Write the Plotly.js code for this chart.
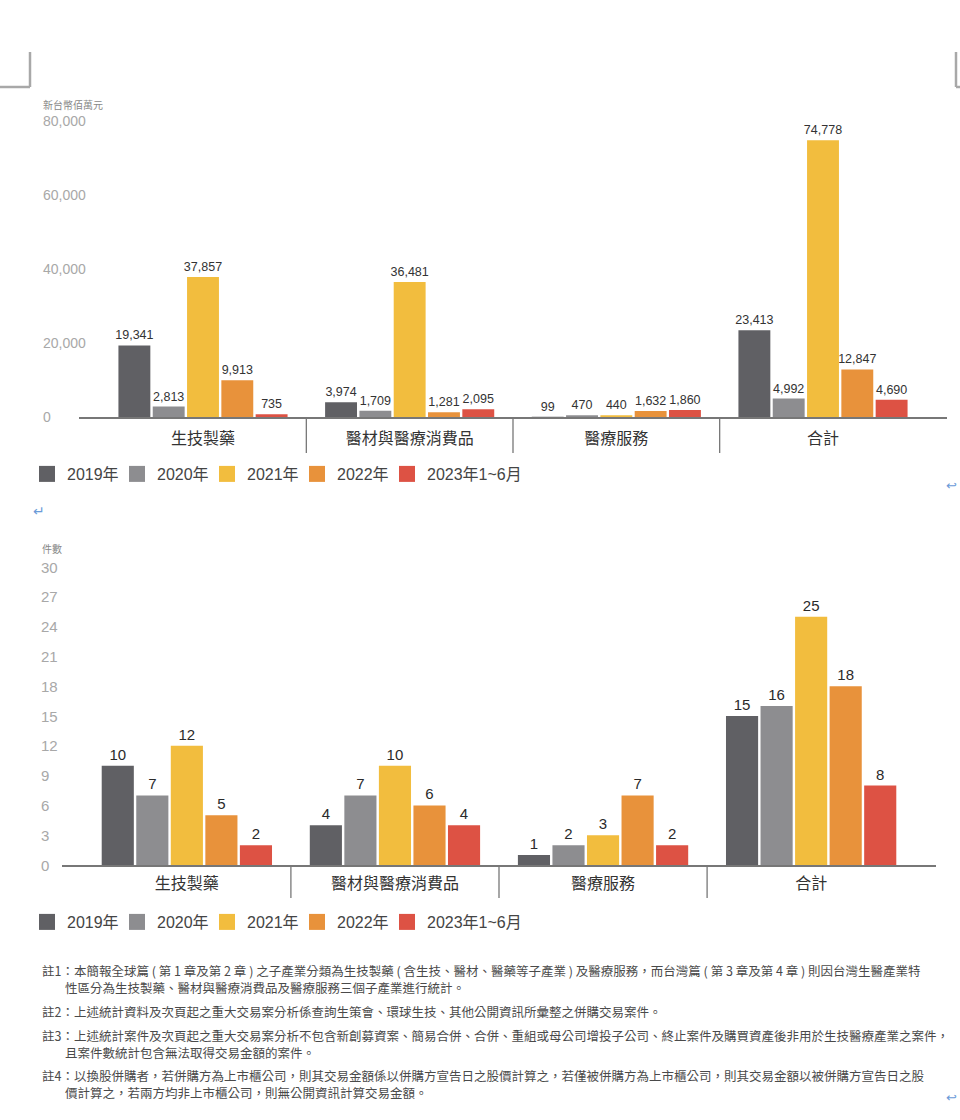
<!DOCTYPE html>
<html>
<head>
<meta charset="utf-8">
<script src="https://cdn.plot.ly/plotly-3.0.1.min.js"></script>
<style>
html,body{margin:0;padding:0;background:#fff;}
#chart{width:960px;height:1120px;}
</style>
</head>
<body>
<div id="chart"></div>
<script>
// ---------- data ----------
const categories = ['生技製藥', '醫材與醫療消費品', '醫療服務', '合計'];
const seriesNames = ['2019年', '2020年', '2021年', '2022年', '2023年1~6月'];
const seriesColors = ['#606064', '#8d8d90', '#f2bd3e', '#e8923b', '#dd5244'];

// 交易金額 (新台幣佰萬元)
const amount2019 = [19341, 3974, 99, 23413];
const amount2020 = [2813, 1709, 470, 4992];
const amount2021 = [37857, 36481, 440, 74778];
const amount2022 = [9913, 1281, 1632, 12847];
const amount2023H1 = [735, 2095, 1860, 4690];

// 件數
const count2019 = [10, 4, 1, 15];
const count2020 = [7, 7, 2, 16];
const count2021 = [12, 10, 3, 25];
const count2022 = [5, 6, 7, 18];
const count2023H1 = [2, 4, 2, 8];

const amountTicks = [0, 20000, 40000, 60000, 80000];
const countTicks = [0, 3, 6, 9, 12, 15, 18, 21, 24, 27, 30];

const unit1 = '新台幣佰萬元';
const unit2 = '件數';

const notes = [
  {t: '註1：本簡報全球篇 ( 第 1 章及第 2 章 ) 之子產業分類為生技製藥 ( 含生技、醫材、醫藥等子產業 ) 及醫療服務，而台灣篇 ( 第 3 章及第 4 章 ) 則因台灣生醫產業特', indent: false},
  {t: '性區分為生技製藥、醫材與醫療消費品及醫療服務三個子產業進行統計。', indent: true},
  {t: '註2：上述統計資料及次頁起之重大交易案分析係查詢生策會、環球生技、其他公開資訊所彙整之併購交易案件。', indent: false},
  {t: '註3：上述統計案件及次頁起之重大交易案分析不包含新創募資案、簡易合併、合併、重組或母公司增投子公司、終止案件及購買資產後非用於生技醫療產業之案件，', indent: false},
  {t: '且案件數統計包含無法取得交易金額的案件。', indent: true},
  {t: '註4：以換股併購者，若併購方為上市櫃公司，則其交易金額係以併購方宣告日之股價計算之，若僅被併購方為上市櫃公司，則其交易金額以被併購方宣告日之股', indent: false},
  {t: '價計算之，若兩方均非上市櫃公司，則無公開資訊計算交易金額。', indent: true}
];
const noteY = [970, 987, 1011, 1035, 1052, 1075, 1092];

// ---------- build ----------
const W = 960, H = 1120;
const px = x => x / W;
const py = y => 1 - y / H;
const FONT = 'Liberation Sans, Arial, Noto Sans CJK TC, sans-serif';
const CJK = 'Noto Sans CJK TC, Liberation Sans, sans-serif';

const amounts = [amount2019, amount2020, amount2021, amount2022, amount2023H1];
const counts = [count2019, count2020, count2021, count2022, count2023H1];

const traces = [];
amounts.forEach((vals, i) => {
  traces.push({
    type: 'bar', x: categories, y: vals, xaxis: 'x', yaxis: 'y',
    name: seriesNames[i], showlegend: false,
    marker: {color: seriesColors[i]},
    text: vals.map(v => v.toLocaleString('en-US')),
    textposition: 'outside', cliponaxis: false, constraintext: 'none',
    textfont: {family: FONT, size: 12.5, color: '#333'},
    hoverinfo: 'none'
  });
});
counts.forEach((vals, i) => {
  traces.push({
    type: 'bar', x: categories, y: vals, xaxis: 'x2', yaxis: 'y2',
    name: seriesNames[i], showlegend: false,
    marker: {color: seriesColors[i]},
    text: vals.map(v => String(v)),
    textposition: 'outside', cliponaxis: false, constraintext: 'none',
    textfont: {family: FONT, size: 15, color: '#2a2a2a'},
    hoverinfo: 'none'
  });
});
// legend entries (square swatches)
['legend', 'legend2'].forEach((lg, k) => {
  seriesNames.forEach((n, i) => {
    traces.push({
      type: 'scatter', mode: 'markers', x: [null], y: [null],
      xaxis: k === 0 ? 'x' : 'x2', yaxis: k === 0 ? 'y' : 'y2',
      name: n, legend: lg, showlegend: true,
      legendwidth: i === seriesNames.length - 1 ? 130 : 45,
      marker: {symbol: 'square', size: 16, color: seriesColors[i]},
      hoverinfo: 'none'
    });
  });
});

const annotations = [];
amountTicks.forEach(v => annotations.push({
  xref: 'paper', yref: 'y', x: px(41), y: v, xanchor: 'left', yanchor: 'middle',
  text: v.toLocaleString('en-US'), showarrow: false,
  font: {family: FONT, size: 14, color: '#a8a8a8'}
}));
countTicks.forEach(v => annotations.push({
  xref: 'paper', yref: 'y2', x: px(39), y: v, xanchor: 'left', yanchor: 'middle',
  text: String(v), showarrow: false,
  font: {family: FONT, size: 15, color: '#a8a8a8'}
}));
annotations.push({xref: 'paper', yref: 'paper', x: px(41), y: py(104), xanchor: 'left', yanchor: 'middle',
  text: unit1, showarrow: false, font: {family: CJK, size: 10, color: '#888'}});
annotations.push({xref: 'paper', yref: 'paper', x: px(40), y: py(549), xanchor: 'left', yanchor: 'middle',
  text: unit2, showarrow: false, font: {family: CJK, size: 10, color: '#888'}});
notes.forEach((n, i) => annotations.push({
  xref: 'paper', yref: 'paper', x: px(n.indent ? 63 : 40), y: py(noteY[i]),
  xanchor: 'left', yanchor: 'middle', text: n.t, showarrow: false,
  font: {family: CJK, size: 12.5, color: '#4a4a4a'}
}));
// word-processor marks
annotations.push({xref: 'paper', yref: 'paper', x: px(31), y: py(511), xanchor: 'left', yanchor: 'middle',
  text: '↵', showarrow: false, font: {family: 'DejaVu Sans', size: 14, color: '#6b9bd8'}});
annotations.push({xref: 'paper', yref: 'paper', x: px(944), y: py(485), xanchor: 'left', yanchor: 'middle',
  text: '↩', showarrow: false, font: {family: 'DejaVu Sans', size: 13, color: '#6b9bd8'}});
annotations.push({xref: 'paper', yref: 'paper', x: px(944), y: py(1097), xanchor: 'left', yanchor: 'middle',
  text: '↩', showarrow: false, font: {family: 'DejaVu Sans', size: 13, color: '#6b9bd8'}});

const shapes = [];
[0.5, 1.5, 2.5].forEach(s => {
  shapes.push({type: 'line', xref: 'x', yref: 'paper', x0: s, x1: s, y0: py(418), y1: py(453),
    line: {color: '#777', width: 1.3}});
  shapes.push({type: 'line', xref: 'x2', yref: 'paper', x0: s, x1: s, y0: py(866), y1: py(898),
    line: {color: '#777', width: 1.3}});
});
// corner marks
const cm = {color: '#a8a8a8', width: 2.5};
shapes.push({type: 'line', xref: 'paper', yref: 'paper', x0: 0, x1: px(30), y0: py(87), y1: py(87), line: cm});
shapes.push({type: 'line', xref: 'paper', yref: 'paper', x0: px(30), x1: px(30), y0: py(52), y1: py(87), line: cm});
shapes.push({type: 'line', xref: 'paper', yref: 'paper', x0: px(956), x1: px(956), y0: py(52), y1: py(87), line: cm});
shapes.push({type: 'line', xref: 'paper', yref: 'paper', x0: px(956), x1: 1, y0: py(87), y1: py(87), line: cm});

const xCommon = {
  type: 'category', range: [-0.6, 3.6], fixedrange: true,
  showline: true, linecolor: '#777', linewidth: 1.8, ticks: '', showgrid: false, zeroline: false,
  tickfont: {family: CJK, size: 16, color: '#333'}
};
const yCommon = {showticklabels: false, showgrid: false, zeroline: false, showline: false, ticks: '', fixedrange: true};

const legendCommon = {
  orientation: 'h', xanchor: 'left', yanchor: 'middle',
  font: {family: FONT, size: 16, color: '#444'},
  itemclick: false, itemdoubleclick: false,
  tracegroupgap: 0, bgcolor: 'rgba(0,0,0,0)'
};

const layout = {
  width: W, height: H,
  margin: {l: 0, r: 0, t: 0, b: 0},
  paper_bgcolor: '#fff', plot_bgcolor: '#fff',
  font: {family: FONT},
  barmode: 'group', bargap: 0.17, bargroupgap: 0.07,
  xaxis: Object.assign({}, xCommon, {domain: [px(79), px(947)], anchor: 'y', ticklabelstandoff: 6}),
  yaxis: Object.assign({}, yCommon, {domain: [py(417), py(121)], range: [0, 80000], anchor: 'x'}),
  xaxis2: Object.assign({}, xCommon, {domain: [px(62), px(936)], anchor: 'y2', ticklabelstandoff: 3}),
  yaxis2: Object.assign({}, yCommon, {domain: [py(865), py(567)], range: [0, 30], anchor: 'x2'}),
  showlegend: true,
  legend: Object.assign({}, legendCommon, {x: px(27), y: py(474)}),
  legend2: Object.assign({}, legendCommon, {x: px(27), y: py(922)}),
  annotations: annotations,
  shapes: shapes
};

Plotly.newPlot('chart', traces, layout, {staticPlot: true, displayModeBar: false});
</script>
</body>
</html>
